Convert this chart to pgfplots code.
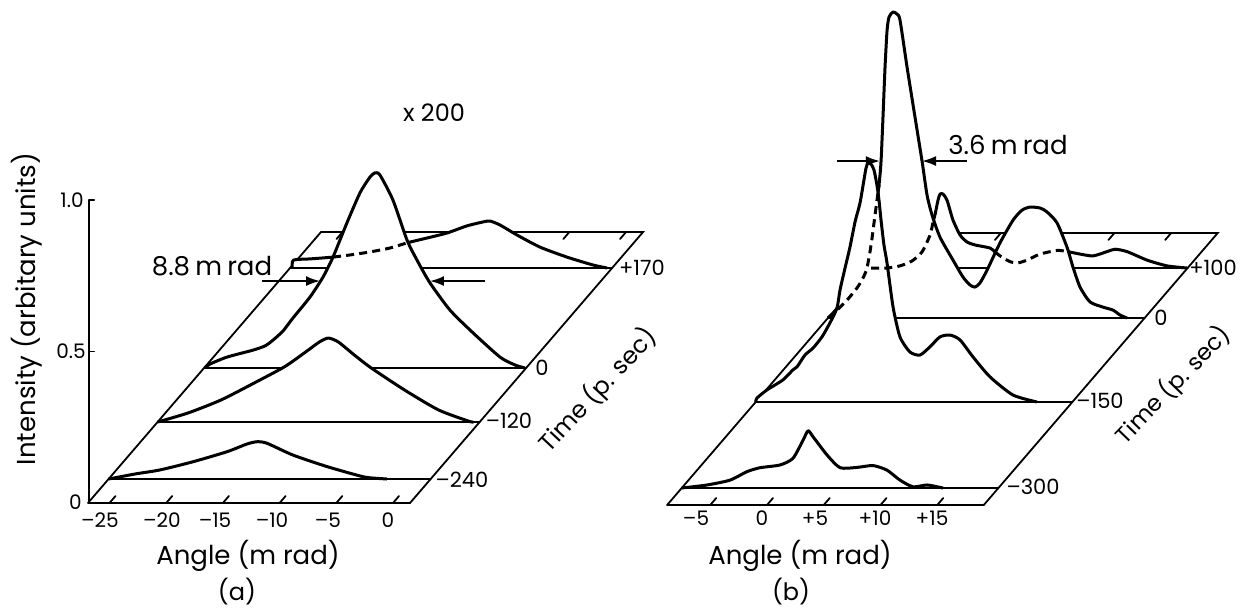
\documentclass[border=0pt]{standalone}
\usepackage{fontspec}
\setmainfont{Poppins}
\usepackage{pgfplots}
\usepackage{pgfplotstable}
\pgfplotsset{compat=1.18}
\usetikzlibrary{arrows.meta}

% ---- panel (a): angle (mrad) vs intensity, one table per delay ----
\pgfplotstableread{
angle intensity
-26.9 0
-24.57 0.0165
-22.36 0.030
-19.45 0.057
-16.46 0.090
-14.70 0.1155
-13.81 0.123
-12.93 0.118
-10.64 0.079
-7.64 0.041
-4.73 0.010
-3.85 0.004
-2.35 0
}\aA % -240 ps
\pgfplotstableread{
angle intensity
-26.9 0
-24.20 0.030
-21.29 0.073
-18.37 0.129
-15.72 0.182
-13.96 0.228
-12.64 0.264
-11.84 0.277
-10.96 0.264
-9.55 0.221
-8.05 0.178
-5.14 0.106
-2.14 0.040
0.51 0.003
0.94 0
}\aB % -120 ps
\pgfplotstableread{
angle intensity
-26.85 0
-26.38 0.013
-24.88 0.036
-22.58 0.059
-21.52 0.073
-20.82 0.092
-19.94 0.122
-19.06 0.165
-17.56 0.234
-16.41 0.300
-15.53 0.366
-14.30 0.479
-13.15 0.578
-12.27 0.630
-11.83 0.644
-11.39 0.637
-10.24 0.554
-9.00 0.422
-8.12 0.356
-6.98 0.281
-5.21 0.191
-3.18 0.116
-0.80 0.036
0.52 0.010
1.40 0
}\aC % 0 ps
\pgfplotstableread{
angle intensity
-26.7 0
-26.6 0.026
-25.14 0.030
-23.11 0.036
-21.62 0.043
-19.85 0.053
-18.09 0.066
-16.59 0.083
-14.82 0.099
-13.06 0.1155
-11.30 0.139
-9.88 0.152
-9.27 0.155
-8.39 0.142
-6.89 0.109
-4.86 0.069
-2.48 0.036
-0.19 0.010
1.05 0
}\aD % +170 ps

% ---- panel (b) ----
\pgfplotstableread{
angle intensity
-8.8 0
-6.57 0.010
-4.55 0.026
-3.05 0.054
-1.90 0.067
-0.14 0.076
1.00 0.098
1.89 0.158
2.33 0.189
2.77 0.169
4.00 0.109
5.15 0.067
6.64 0.068
8.05 0.074
9.28 0.059
10.43 0.026
11.58 0.004
12.81 0.010
13.96 0.002
14.22 0
}\bA % -300 ps
\pgfplotstableread{
angle intensity
-8.8 0
-8.69 0.013
-7.80 0.040
-6.40 0.073
-5.52 0.106
-5.16 0.116
-4.46 0.155
-3.75 0.178
-2.96 0.215
-2.26 0.261
-1.64 0.310
-1.37 0.370
-0.93 0.442
-0.49 0.512
-0.05 0.594
0.39 0.657
0.74 0.733
0.92 0.772
1.09 0.789
1.36 0.785
1.62 0.766
1.88 0.716
2.06 0.667
2.24 0.601
2.50 0.518
2.77 0.459
3.30 0.314
3.91 0.215
4.79 0.165
5.67 0.155
6.55 0.182
7.44 0.215
8.32 0.221
9.20 0.205
10.34 0.149
11.84 0.083
13.87 0.023
15.98 0
}\bB % -150 ps
\pgfplotstableread{
angle intensity
-8.79 0
-8.00 0.026
-7.12 0.059
-6.24 0.099
-5.71 0.132
-5.36 0.165
-5.00 0.241
-4.65 0.340
-4.30 0.439
-4.12 0.518
-3.95 0.663
-3.77 0.828
-3.59 0.950
-3.42 0.993
-3.07 1.010
-2.71 1.003
-2.45 0.983
-1.83 0.828
-1.13 0.663
-0.51 0.518
-0.07 0.406
0.37 0.340
1.07 0.267
2.22 0.191
3.10 0.135
3.72 0.109
4.16 0.102
4.60 0.116
5.22 0.158
6.36 0.248
7.51 0.323
8.30 0.356
9.00 0.366
9.89 0.363
10.50 0.350
11.38 0.314
12.26 0.234
12.79 0.168
13.41 0.102
14.29 0.053
15.43 0.036
16.32 0.026
16.93 0.010
17.55 0
}\bC % 0 ps
\pgfplotstableread{
angle intensity
-8.79 0
-7.38 0
-6.24 0.007
-5.19 0.023
-4.30 0.053
-3.59 0.109
-3.33 0.152
-3.16 0.175
-2.89 0.224
-2.71 0.244
-2.45 0.244
-2.10 0.224
-1.57 0.158
-0.95 0.109
-0.34 0.086
0.37 0.076
1.69 0.066
2.13 0.053
2.57 0.040
3.45 0.021
4.16 0.017
4.95 0.026
6.10 0.046
7.59 0.058
8.39 0.055
9.62 0.046
10.77 0.040
12.00 0.054
12.71 0.062
13.77 0.054
15.53 0.026
17.29 0.007
19.05 0
}\bD % +100 ps

\pgfplotsset{
  waterfall/.style={
    hide axis, clip=false, disabledatascaling, anchor=origin,
    y={(0.43pt,0.5pt)}, z={(0pt,151.5pt)},
    ymin=0, ymax=280, zmin=0, zmax=1.1,
  },
  floor/.style={black, line width=0.9pt, line cap=round},
  curve/.style={black, line width=1.5pt, smooth, tension=0.4, line join=round},
  mask/.style={fill=white, draw=none, smooth, tension=0.4},
  hidden/.style={curve, dash pattern=on 4pt off 2.6pt},
  arrowline/.style={black, line width=0.9pt, -{Latex[length=7pt,width=5pt]}},
}
% depth, table, left and right end of the base line
\newcommand\trace[4]{%
  \addplot3[mask] table[x=angle, y expr=#1, z=intensity] {#2} -- cycle;
  \addplot3[floor] coordinates {(#3,#1,0) (#4,#1,0)};
  \addplot3[curve] table[x=angle, y expr=#1, z=intensity] {#2};
}
\newcommand\ticksz{\fontsize{10}{11}\selectfont}
\newcommand\timesz{\fontsize{10.5}{11}\selectfont}
\newcommand\labsz{\fontsize{13}{14}\selectfont}
\newcommand\tlabsz{\fontsize{12}{13}\selectfont}

\begin{document}
\begin{tikzpicture}
\useasboundingbox (0,0) rectangle (620.5pt,303.5pt);

% ================= (a) =================
\begin{axis}[waterfall, at={(196.5pt,52pt)}, x={(5.67pt,0pt)}, xmin=-27, xmax=2]
\addplot3[floor] coordinates {(-26.9,0,0) (1.5,0,0) (1.5,271,0) (-26.9,271,0) (-26.9,0,0)};
\pgfplotsinvokeforeach{-25,-20,-15,-10,-5,0}{
  \addplot3[floor] coordinates {(#1,0,0) (#1,7,0)};
  \addplot3[floor] coordinates {(#1,271,0) (#1,264,0)};
}
\trace{235}{\aD}{-26.9}{1.5}
\trace{135}{\aC}{-26.9}{1.5}
\trace{81}{\aB}{-26.9}{1.5}
\trace{24}{\aA}{-26.9}{1.5}
\addplot3[hidden, restrict x to domain=-23.2:-16.5]
  table[x=angle, y expr=235, z=intensity] {\aD};
% intensity axis
\addplot3[floor] coordinates {(-26.8,0,0) (-26.8,0,1)};
\addplot3[floor] coordinates {(-26.8,0,0.5) (-26.35,0,0.5)};
\addplot3[floor] coordinates {(-26.8,0,1) (-26.35,0,1)};
% width markers
\addplot3[arrowline] coordinates {(-21.79,135,0.287) (-16.67,135,0.287)};
\addplot3[arrowline] coordinates {(-2.13,135,0.287) (-6.98,135,0.287)};
\end{axis}

% ================= (b) =================
\begin{axis}[waterfall, at={(383.5pt,51pt)}, x={(5.675pt,0pt)}, xmin=-9, xmax=20]
\addplot3[floor] coordinates {(-8.8,0,0) (19.1,0,0) (19.1,272,0) (-8.8,272,0) (-8.8,0,0)};
\pgfplotsinvokeforeach{-5,0,5,10,15}{
  \addplot3[floor] coordinates {(#1,0,0) (#1,7,0)};
  \addplot3[floor] coordinates {(#1,272,0) (#1,265,0)};
}
\trace{237}{\bD}{-8.8}{19.1}
\trace{187}{\bC}{-8.8}{19.1}
\trace{103}{\bB}{-8.8}{19.1}
\trace{17}{\bA}{-8.8}{19.1}
\addplot3[hidden, restrict x to domain=-8.8:-4.3]
  table[x=angle, y expr=187, z=intensity] {\bC};
\addplot3[hidden, restrict x to domain=-8.8:-3.3]
  table[x=angle, y expr=237, z=intensity] {\bD};
\addplot3[hidden, restrict x to domain=2.1:8.4]
  table[x=angle, y expr=237, z=intensity] {\bD};
\addplot3[arrowline] coordinates {(-8.00,187,0.518) (-4.22,187,0.518)};
\addplot3[arrowline] coordinates {(3.45,187,0.518) (-0.51,187,0.518)};
\end{axis}

% ================= text (pixel positions of the page) =================
\begin{scope}[x=0.5pt, y=-0.5pt, yshift=303.5pt, every node/.style={inner sep=0pt}]
\node[font=\tlabsz] at (434,113) {x 200};
\node[font=\labsz] at (212,266) {8.8\hspace{0.2em}m\hspace{0.2em}rad};
\node[font=\ticksz, anchor=east] at (84,200) {1.0};
\node[font=\ticksz, anchor=east] at (86,351) {0.5};
\node[font=\ticksz, anchor=east] at (82,502) {0};
\node[font=\labsz, rotate=90] at (27,309) {Intensity (arbitary units)};
\node[font=\ticksz] at (100,520) {–25};
\node[font=\ticksz] at (162,520) {–20};
\node[font=\ticksz] at (215,520) {–15};
\node[font=\ticksz] at (272,520) {–10};
\node[font=\ticksz] at (328,520) {–5};
\node[font=\ticksz] at (388,520) {0};
\node[font=\labsz] at (248,556) {Angle (m rad)};
\node[font=\tlabsz] at (237,592) {(a)};
\node[font=\timesz] at (642,268) {+170};
\node[font=\timesz] at (542,368) {0};
\node[font=\timesz] at (509,421) {–120};
\node[font=\timesz] at (462,480) {–240};
\node[font=\tlabsz, rotate=47] at (598,390) {Time (p. sec)};
%
\node[font=\labsz] at (1008,145) {3.6\hspace{0.2em}m\hspace{0.2em}rad};
\node[font=\ticksz] at (696,518) {–5};
\node[font=\ticksz] at (762,518) {0};
\node[font=\ticksz] at (815,518) {+5};
\node[font=\ticksz] at (875,518) {+10};
\node[font=\ticksz] at (932,518) {+15};
\node[font=\labsz] at (800,556) {Angle (m rad)};
\node[font=\tlabsz] at (791,592) {(b)};
\node[font=\timesz] at (1213,268) {+100};
\node[font=\timesz] at (1161,318) {0};
\node[font=\timesz] at (1100,401) {–150};
\node[font=\timesz] at (1033,487) {–300};
\node[font=\fontsize{11.5}{12}\selectfont, rotate=46] at (1173,385) {Time (p. sec)};
\end{scope}
\end{tikzpicture}
\end{document}
